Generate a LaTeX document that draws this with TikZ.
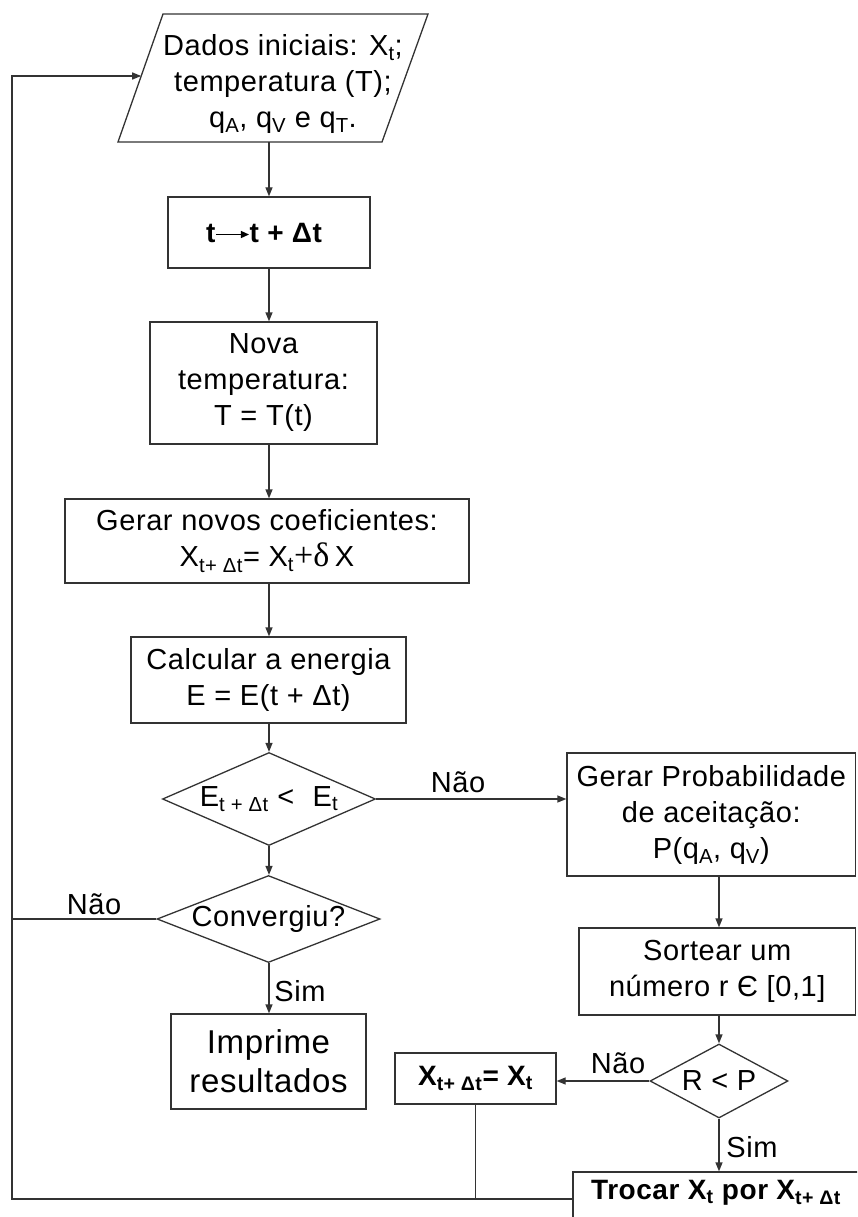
\documentclass[tikz,border=0pt]{standalone}
\usepackage{fontspec}
\setmainfont{Liberation Sans}[LetterSpace=2]
\newfontfamily\symfont{Liberation Serif}
\usetikzlibrary{arrows.meta,shapes.geometric}
\tikzset{
  base/.style={font=\fontsize{29}{36}\selectfont, align=center, inner sep=0pt, text=black},
  box/.style={base, draw=black!80, line width=1.3pt, rectangle},
  dia/.style={base, draw=black!80, line width=1.3pt, diamond},
  conn/.style={line width=1.3pt, draw=black!80},
  arr/.style={conn, -{Triangle[length=9pt,width=7pt]}},
  lbl/.style={base},
  heavy/.style={font=\fontsize{28}{36}\selectfont\bfseries},
}
\begin{document}
\begin{tikzpicture}[x=1pt,y=-1pt]
\useasboundingbox (0,0) rectangle (857,1217);
\clip (0,0) rectangle (857,1217);
% parallelogram
\draw[conn] (163,14) -- (428,14) -- (382,142) -- (118,142) -- cycle;
\coordinate (parB) at (269,142);
\coordinate (parL) at (141.2,76);
\node[base] (par) at (283,84) {Dados iniciais: X\textsubscript{t};\\temperatura (T);\\q\textsubscript{A}, q\textsubscript{V} e q\textsubscript{T}.};
% main column
\node[box, heavy, minimum width=202, minimum height=71] (tb) at (269,232.5)
  {t\tikz[x=1pt,y=1pt,baseline=0pt]{\draw[line width=1.3pt,-{Triangle[length=8pt,width=7pt]}] (0,7.5) -- (33,7.5);}t + Δt\hspace*{10pt}};
\node[box, minimum width=227, minimum height=122] (nova) at (263.5,383)
  {Nova\\temperatura:\\T = T(t)};
\node[box, minimum width=404, minimum height=84] (gerar) at (267,541)
  {Gerar novos coeficientes:\\X\textsubscript{t+ Δt}= X\textsubscript{t}{\symfont\fontsize{34}{36}\selectfont +δ\,}X};
\node[box, minimum width=275, minimum height=86] (calc) at (268.5,680)
  {Calcular a energia\\E = E(t + Δt)};
\node[dia, minimum width=213, minimum height=93,
  label={[base]center:E\textsubscript{t + Δt} <\,\, E\textsubscript{t}}] (d1) at (269,799) {};
\node[dia, minimum width=223, minimum height=87,
  label={[base]center:Convergiu?}] (d2) at (268.5,919) {};
\node[box, minimum width=195, minimum height=95, font=\fontsize{33}{39}\selectfont] (imp) at (268.5,1061.5)
  {Imprime\\resultados};
% right column
\node[box, minimum width=288.5, minimum height=123] (gp) at (711.25,814.5)
  {Gerar Probabilidade\\de aceitação:\\P(q\textsubscript{A}, q\textsubscript{V})};
\node[box, minimum width=276.5, minimum height=87] (sort) at (717.25,971.5)
  {Sortear um\\número r Є [0,1]};
\node[dia, minimum width=138, minimum height=74,
  label={[base]center:R < P}] (d3) at (719,1081) {};
\node[box, heavy, minimum width=161, minimum height=51] (xb) at (475.5,1078.5)
  {X\textsubscript{t+ Δt}= X\textsubscript{t}};
\node[box, minimum width=307, minimum height=54] (tr) at (726.5,1199) {};
\node[base, heavy] (trtext) at (716,1193) {Trocar X\textsubscript{t} por X\textsubscript{t+ Δt}};
% connectors
\draw[arr] (parB) -- (tb.north);
\draw[arr] (tb.south) -- (nova.north -| tb.south);
\draw[arr] (nova.south -| tb.south) -- (gerar.north -| tb.south);
\draw[arr] (gerar.south -| tb.south) -- (calc.north -| tb.south);
\draw[arr] (calc.south -| tb.south) -- (d1.north);
\draw[arr] (d1.south) -- (d2.north -| d1.south);
\draw[arr] (d2.south -| d1.south) -- (imp.north -| d1.south);
\draw[arr] (d1.east) -- (gp.west |- d1.east);
\draw[arr] (gp.south -| d3.north) -- (sort.north -| d3.north);
\draw[arr] (sort.south -| d3.north) -- (d3.north);
\draw[arr] (d3.west) -- (xb.east |- d3.west);
\draw[arr] (d3.south) -- (tr.north -| d3.south);
\coordinate (cBL) at (12,1199);
\coordinate (cTL) at (12,76);
\coordinate (cNL) at (12,919);
\draw[arr] (tr.west) -- (cBL) -- (cTL) -- (parL);
\draw[conn] (d2.west) -- (cNL);
\draw[conn] (xb.south) -- (xb.south |- tr.west);
% labels
\node[lbl] (l1) at (458,782) {Não};
\node[lbl] (l2) at (94,904) {Não};
\node[lbl] (l3) at (300,991) {Sim};
\node[lbl] (l4) at (618,1063) {Não};
\node[lbl] (l5) at (752,1147) {Sim};
\end{tikzpicture}
\end{document}
